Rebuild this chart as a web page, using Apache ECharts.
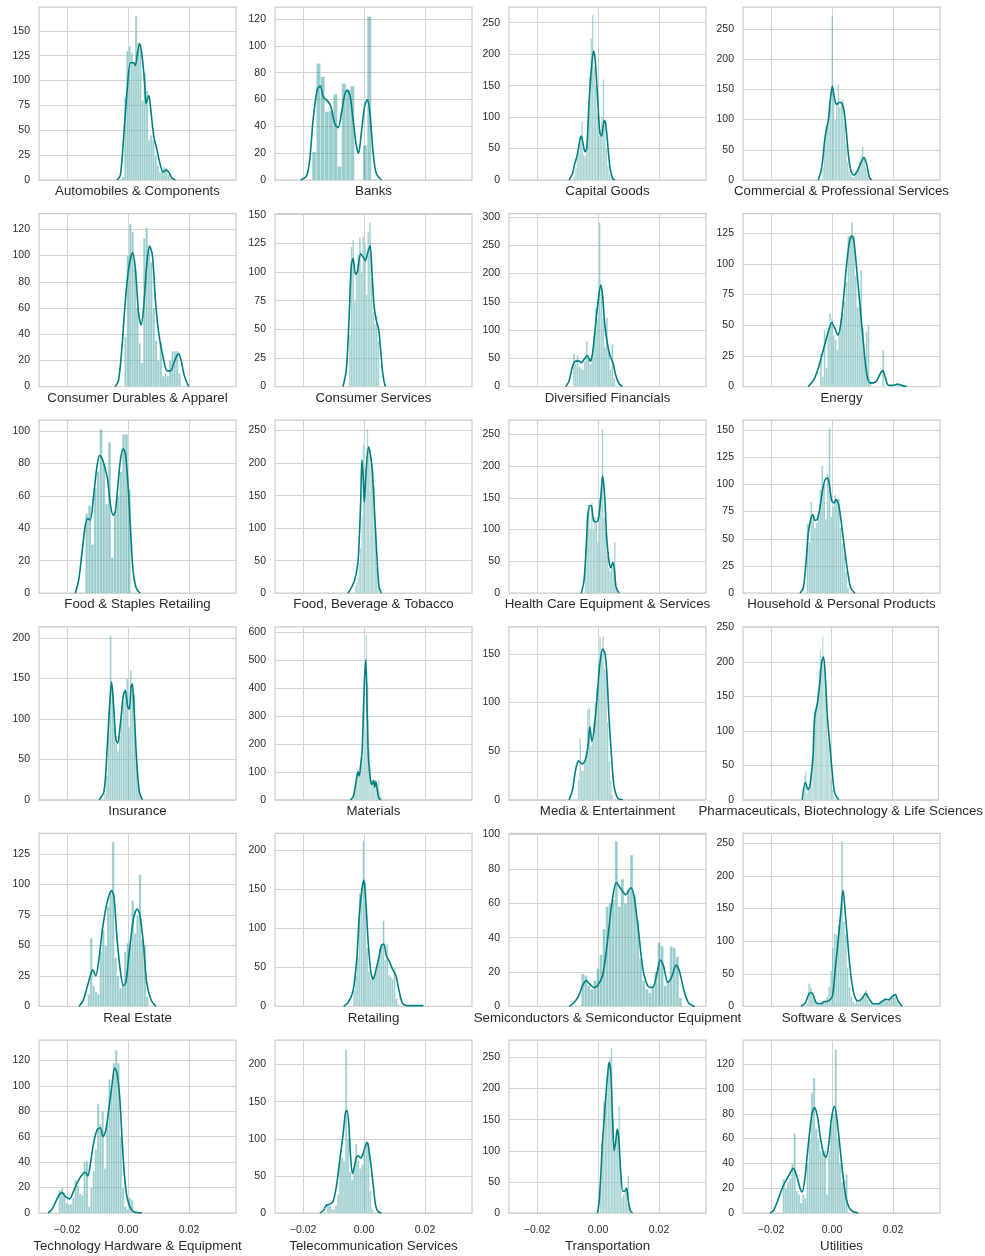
<!DOCTYPE html>
<html>
<head>
<meta charset="utf-8">
<script src="https://cdn.jsdelivr.net/npm/echarts@6/dist/echarts.min.js"></script>
<style>
  html, body { margin: 0; padding: 0; background: #fff; }
  #chart { width: 985px; height: 1256px; }
</style>
</head>
<body>
<div id="chart"></div>
<script>
// sector names, one panel each (6 rows x 4 columns)
const sectors = [
  'Automobiles & Components', 'Banks', 'Capital Goods', 'Commercial & Professional Services',
  'Consumer Durables & Apparel', 'Consumer Services', 'Diversified Financials', 'Energy',
  'Food & Staples Retailing', 'Food, Beverage & Tobacco', 'Health Care Equipment & Services', 'Household & Personal Products',
  'Insurance', 'Materials', 'Media & Entertainment', 'Pharmaceuticals, Biotechnology & Life Sciences',
  'Real Estate', 'Retailing', 'Semiconductors & Semiconductor Equipment', 'Software & Services',
  'Technology Hardware & Equipment', 'Telecommunication Services', 'Transportation', 'Utilities'
]

// histogram bins: left edge of first bin, bin width, counts
const binStart = [-0.00197, -0.01705, -0.0080, -0.0032, -0.0012, -0.00492, -0.0082, -0.00394,
  -0.0140, -0.00306, -0.00426, -0.00831, -0.0078, -0.0034, -0.0066, -0.0090,
  -0.0133, -0.0035, -0.0055, -0.0084, -0.02273, -0.01213, 0.00066, -0.01618]
const binWidth = [0.00071, 0.00139, 0.0005, 0.0005, 0.00077, 0.00055, 0.0006, 0.0006,
  0.00093, 0.00044, 0.0005, 0.0006, 0.0006, 0.0004, 0.0005, 0.0004,
  0.0008, 0.0006, 0.001, 0.0006, 0.00074, 0.00066, 0.0005, 0.00071]
const counts = [
  [3, 84, 130, 135, 128, 118, 165, 138, 137, 80, 108, 90, 40, 45, 40, 25, 15, 8, 10, 13, 12, 5, 2],
  [21, 87, 77, 51, 52, 64, 10, 72, 67, 70, 0, 0, 26, 122],
  [5, 18, 35, 45, 60, 93, 40, 38, 55, 95, 165, 225, 262, 180, 150, 105, 70, 80, 100, 160, 95, 50, 22, 8, 2],
  [20, 60, 90, 95, 130, 120, 271, 135, 100, 125, 158, 120, 130, 133, 95, 60, 30, 15, 10, 5, 5, 10, 15, 20, 30, 40, 55, 35, 20, 8, 3],
  [38, 100, 124, 118, 90, 60, 33, 18, 113, 121, 108, 95, 60, 35, 20, 34, 8, 10, 8, 20, 27, 27, 27, 10],
  [45, 122, 128, 75, 100, 115, 130, 100, 131, 125, 80, 135, 143, 95, 65, 55, 62, 40],
  [58, 40, 55, 35, 32, 30, 45, 80, 48, 40, 50, 88, 138, 120, 290, 165, 120, 70, 122, 60, 30, 75, 15],
  [27, 8, 46, 15, 45, 60, 55, 42, 38, 30, 45, 55, 60, 70, 85, 123, 123, 134, 123, 90, 65, 64, 95, 48, 20, 45, 50, 5, 0, 0, 0, 0, 0, 0, 30, 0, 0, 0, 0, 0, 0, 0, 2],
  [49, 54, 30, 65, 75, 101, 80, 55, 93, 22, 50, 60, 75, 98, 98, 64],
  [10, 15, 25, 45, 70, 120, 228, 150, 190, 252, 225, 220, 200, 190, 165, 100, 40, 15],
  [70, 124, 140, 100, 142, 100, 120, 110, 80, 150, 165, 258, 120, 95, 60, 40, 35, 45, 40, 80, 8],
  [64, 47, 84, 70, 60, 65, 75, 95, 117, 100, 68, 110, 152, 70, 80, 90, 85, 87, 60, 45, 35, 20, 5],
  [8, 30, 110, 203, 140, 100, 70, 60, 80, 100, 120, 135, 150, 90, 160, 145, 130, 60, 20, 5],
  [20, 45, 80, 110, 95, 120, 140, 150, 200, 250, 588, 420, 180, 120, 70, 55, 50, 70, 60, 40, 70, 30, 10],
  [20, 63, 30, 30, 40, 50, 93, 95, 55, 60, 80, 100, 115, 140, 168, 150, 168, 135, 132, 80, 40, 20, 5],
  [35, 42, 10, 15, 20, 40, 60, 100, 130, 135, 140, 160, 190, 218, 200, 238, 195, 160, 120, 90, 80, 60, 30, 15, 5, 2],
  [10, 56, 17, 12, 10, 45, 63, 50, 82, 95, 135, 40, 25, 15, 18, 45, 52, 50, 87, 60, 75, 108, 55, 50, 8],
  [20, 40, 65, 145, 150, 213, 160, 75, 45, 35, 35, 40, 45, 60, 75, 80, 110, 60, 80, 40, 38, 35, 50, 10, 3],
  [19, 18, 12, 10, 15, 22, 30, 45, 58, 60, 62, 96, 58, 74, 60, 68, 88, 65, 50, 28, 15, 10, 8, 12, 20, 37, 35, 12, 15, 35, 34, 29, 5],
  [5, 35, 28, 15, 10, 3, 2, 3, 5, 8, 10, 15, 30, 55, 90, 112, 110, 125, 140, 253, 130, 110, 60, 30, 15, 8, 5, 10, 5, 10, 12, 15, 25, 10, 5, 3, 2, 2, 3, 5, 8, 10, 12, 10, 8, 12, 15, 18, 15, 8, 3],
  [18, 20, 15, 8, 7, 7, 12, 26, 22, 15, 14, 40, 41, 5, 20, 33, 50, 86, 70, 80, 35, 70, 105, 98, 118, 128, 118, 60, 20, 5, 3, 12, 10],
  [12, 10, 5, 5, 10, 25, 70, 75, 70, 220, 100, 55, 45, 60, 93, 70, 60, 65, 80, 97, 93, 30, 5],
  [40, 110, 180, 175, 200, 230, 250, 265, 150, 110, 120, 130, 172, 60, 25, 30, 35, 40, 60, 10],
  [27, 20, 25, 28, 40, 64, 18, 15, 8, 15, 12, 40, 60, 97, 109, 68, 60, 50, 48, 50, 15, 50, 70, 80, 132, 60, 40, 25, 26, 31]
]

// kde curves as [return, density]
const kde = [
  [[-0.0036, 0], [-0.0025, 5], [-0.0014, 45], [-0.0003, 90], [0.0008, 118], [0.0019, 118], [0.0024, 115], [0.0032, 130], [0.0038, 137], [0.0046, 125], [0.0055, 95], [0.0059, 77], [0.0068, 85], [0.0073, 75], [0.0084, 45], [0.0095, 30], [0.0106, 15], [0.0115, 8], [0.0125, 10], [0.0133, 8], [0.0144, 2], [0.0155, 0]],
  [[-0.0208, 0], [-0.0189, 3], [-0.0178, 15], [-0.0167, 45], [-0.0153, 68], [-0.0143, 70], [-0.0134, 62], [-0.012, 59], [-0.0109, 55], [-0.0096, 42], [-0.0085, 39], [-0.0074, 50], [-0.0063, 64], [-0.0055, 67], [-0.0046, 63], [-0.0036, 45], [-0.0025, 25], [-0.0018, 20], [-0.0009, 35], [0.0002, 55], [0.0011, 60], [0.0019, 50], [0.003, 20], [0.004, 5], [0.0057, 0]],
  [[-0.0095, 0], [-0.0084, 10], [-0.0077, 25], [-0.0068, 40], [-0.0059, 65], [-0.0055, 70], [-0.0048, 55], [-0.0043, 45], [-0.0037, 50], [-0.003, 120], [-0.0022, 175], [-0.0015, 205], [-0.001, 195], [-0.0002, 135], [0.0006, 75], [0.0012, 70], [0.002, 95], [0.0025, 90], [0.0033, 50], [0.0039, 20], [0.0047, 3], [0.0055, 0]],
  [[-0.0045, 0], [-0.0034, 20], [-0.0023, 70], [-0.0012, 100], [-0.0004, 140], [0.0001, 155], [0.0008, 135], [0.0015, 125], [0.0024, 128], [0.0032, 127], [0.0039, 115], [0.0046, 85], [0.0054, 40], [0.0062, 15], [0.0072, 8], [0.0083, 15], [0.0094, 28], [0.0105, 37], [0.0114, 25], [0.0122, 5], [0.013, 0]],
  [[-0.0042, 0], [-0.0031, 5], [-0.002, 30], [-0.0009, 65], [0.0002, 90], [0.0015, 102], [0.0024, 90], [0.0035, 55], [0.0043, 47], [0.0051, 60], [0.0062, 95], [0.0071, 107], [0.008, 100], [0.009, 65], [0.0101, 40], [0.0117, 20], [0.0128, 12], [0.0139, 12], [0.015, 18], [0.0161, 24], [0.0166, 25], [0.0174, 20], [0.0185, 8], [0.0199, 0]],
  [[-0.0069, 0], [-0.0058, 15], [-0.0049, 60], [-0.0042, 105], [-0.0036, 112], [-0.0028, 98], [-0.0022, 100], [-0.0011, 116], [-0.0003, 113], [0.0004, 110], [0.0013, 118], [0.002, 123], [0.0026, 100], [0.0033, 70], [0.004, 58], [0.0048, 50], [0.0055, 30], [0.0062, 10], [0.007, 0]],
  [[-0.0106, 0], [-0.0095, 10], [-0.0084, 35], [-0.0073, 45], [-0.0062, 45], [-0.0055, 42], [-0.0046, 48], [-0.0035, 55], [-0.0026, 45], [-0.0019, 55], [-0.0008, 110], [0, 150], [0.0009, 180], [0.0015, 160], [0.0022, 110], [0.0031, 75], [0.0039, 55], [0.005, 40], [0.0058, 20], [0.0069, 5], [0.008, 0]],
  [[-0.0078, 0], [-0.0061, 5], [-0.0045, 15], [-0.0034, 25], [-0.0023, 35], [-0.0012, 45], [-0.0001, 52], [0.001, 47], [0.0019, 42], [0.0028, 50], [0.0037, 70], [0.0048, 100], [0.0057, 118], [0.0065, 123], [0.0072, 118], [0.0081, 95], [0.0092, 65], [0.0103, 35], [0.0114, 10], [0.0125, 3], [0.0136, 3], [0.0147, 5], [0.0157, 10], [0.0166, 13], [0.0174, 8], [0.0185, 1], [0.0201, 1], [0.0214, 2], [0.0228, 1], [0.0245, 0]],
  [[-0.0173, 0], [-0.0162, 8], [-0.0151, 25], [-0.014, 42], [-0.0132, 46], [-0.0124, 45], [-0.0113, 60], [-0.0102, 78], [-0.0093, 85], [-0.0085, 83], [-0.0074, 76], [-0.0067, 70], [-0.0058, 55], [-0.0049, 48], [-0.0042, 50], [-0.0034, 65], [-0.0025, 82], [-0.0016, 89], [-0.0009, 86], [-0.0001, 70], [0.0008, 40], [0.0016, 15], [0.0027, 3], [0.004, 0]],
  [[-0.0053, 0], [-0.0042, 8], [-0.0031, 20], [-0.0022, 40], [-0.0018, 60], [-0.0011, 140], [-0.0007, 205], [-0.0003, 180], [0.0001, 140], [0.0007, 190], [0.0015, 225], [0.0022, 210], [0.0027, 190], [0.0035, 120], [0.0043, 50], [0.0049, 10], [0.0057, 0]],
  [[-0.0055, 0], [-0.0046, 20], [-0.0038, 80], [-0.0033, 125], [-0.0026, 138], [-0.0021, 137], [-0.0015, 115], [-0.0008, 112], [0, 115], [0.0009, 150], [0.0015, 185], [0.0022, 150], [0.0028, 90], [0.0036, 50], [0.0042, 40], [0.0048, 48], [0.0053, 40], [0.0059, 10], [0.0069, 0]],
  [[-0.0105, 0], [-0.0094, 5], [-0.0085, 30], [-0.0078, 55], [-0.007, 68], [-0.0063, 72], [-0.0056, 67], [-0.0048, 68], [-0.0039, 80], [-0.0031, 95], [-0.0023, 104], [-0.0015, 106], [-0.0009, 100], [-0.0001, 85], [0.0007, 83], [0.0013, 86], [0.0021, 82], [0.0028, 70], [0.0037, 50], [0.0046, 30], [0.0054, 15], [0.0061, 5], [0.0075, 0]],
  [[-0.0095, 0], [-0.0079, 10], [-0.0069, 60], [-0.006, 120], [-0.0054, 146], [-0.0048, 120], [-0.004, 75], [-0.0034, 70], [-0.0025, 95], [-0.0015, 130], [-0.0009, 135], [-0.0001, 115], [0.0004, 112], [0.001, 140], [0.0014, 143], [0.002, 110], [0.0028, 50], [0.0037, 10], [0.0047, 0]],
  [[-0.0045, 0], [-0.0036, 10], [-0.003, 40], [-0.0024, 80], [-0.002, 100], [-0.0016, 85], [-0.0011, 125], [-0.0006, 180], [-0.0002, 320], [0.0002, 440], [0.0006, 500], [0.001, 330], [0.0014, 160], [0.0018, 100], [0.0023, 60], [0.0027, 55], [0.0031, 70], [0.0035, 45], [0.0039, 65], [0.0044, 30], [0.0049, 5], [0.0055, 0]],
  [[-0.0095, 0], [-0.0084, 10], [-0.0074, 30], [-0.0064, 40], [-0.0053, 37], [-0.0043, 40], [-0.0033, 55], [-0.0027, 75], [-0.002, 60], [-0.0012, 75], [-0.0002, 110], [0.0006, 140], [0.0015, 155], [0.0023, 150], [0.0029, 130], [0.0035, 90], [0.0044, 45], [0.0052, 15], [0.0064, 2], [0.0081, 0]],
  [[-0.0096, 0], [-0.0086, 25], [-0.0077, 15], [-0.0071, 20], [-0.0061, 60], [-0.0055, 120], [-0.0046, 140], [-0.0038, 170], [-0.0032, 200], [-0.0026, 207], [-0.002, 180], [-0.0013, 120], [-0.0005, 80], [0.0003, 40], [0.0011, 10], [0.0024, 0]],
  [[-0.0161, 0], [-0.0147, 5], [-0.0135, 15], [-0.0124, 25], [-0.0116, 30], [-0.0106, 25], [-0.0095, 40], [-0.0083, 65], [-0.0069, 85], [-0.0054, 95], [-0.0046, 90], [-0.0036, 55], [-0.0023, 25], [-0.0015, 17], [-0.0007, 20], [0.0004, 45], [0.0018, 72], [0.003, 80], [0.0039, 75], [0.0051, 50], [0.0061, 20], [0.0076, 5], [0.0092, 0]],
  [[-0.0067, 0], [-0.0052, 5], [-0.0036, 20], [-0.0024, 60], [-0.0015, 120], [-0.0007, 150], [-0.0001, 162], [0.0005, 140], [0.0014, 80], [0.0022, 45], [0.003, 35], [0.0038, 45], [0.0047, 60], [0.0057, 78], [0.0065, 80], [0.0073, 65], [0.0084, 57], [0.0094, 47], [0.0104, 40], [0.0115, 20], [0.0125, 5], [0.0139, 1], [0.017, 1], [0.0195, 1]],
  [[-0.0095, 0], [-0.008, 2], [-0.0064, 6], [-0.0051, 12], [-0.0039, 15], [-0.0027, 13], [-0.0014, 11], [-0.0002, 12], [0.0015, 18], [0.0029, 35], [0.0044, 58], [0.006, 72], [0.0076, 68], [0.0091, 65], [0.0107, 69], [0.0118, 64], [0.0132, 45], [0.0147, 22], [0.0163, 12], [0.0179, 11], [0.0194, 20], [0.0204, 27], [0.0214, 24], [0.0229, 14], [0.0241, 17], [0.0256, 24], [0.0266, 21], [0.0282, 9], [0.0297, 2], [0.0317, 0]],
  [[-0.0102, 0], [-0.0088, 5], [-0.0075, 20], [-0.0067, 21], [-0.0059, 14], [-0.0051, 5], [-0.0038, 4], [-0.0026, 7], [-0.0013, 8], [0.0001, 15], [0.0011, 60], [0.002, 100], [0.0028, 140], [0.0036, 178], [0.0044, 140], [0.0053, 90], [0.0061, 50], [0.0069, 25], [0.0077, 12], [0.0086, 8], [0.0098, 12], [0.011, 20], [0.0121, 12], [0.0135, 4], [0.0151, 4], [0.0166, 8], [0.0176, 11], [0.0186, 10], [0.0197, 15], [0.0207, 18], [0.0217, 8], [0.023, 0]],
  [[-0.0262, 0], [-0.0249, 3], [-0.0235, 10], [-0.0224, 15], [-0.0216, 16], [-0.0206, 13], [-0.0192, 11], [-0.0179, 17], [-0.0166, 24], [-0.0151, 30], [-0.014, 32], [-0.0132, 29], [-0.0124, 38], [-0.0113, 55], [-0.0102, 65], [-0.0091, 67], [-0.0082, 60], [-0.0073, 65], [-0.0063, 82], [-0.0053, 100], [-0.0044, 114], [-0.0036, 110], [-0.0027, 90], [-0.002, 60], [-0.0012, 30], [-0.0003, 12], [0.0008, 4], [0.0019, 1], [0.0046, 0]],
  [[-0.0145, 0], [-0.0134, 3], [-0.0124, 10], [-0.0113, 12], [-0.0102, 15], [-0.0091, 35], [-0.008, 70], [-0.0069, 105], [-0.0061, 135], [-0.0056, 138], [-0.005, 120], [-0.0044, 75], [-0.0038, 53], [-0.0033, 60], [-0.0025, 75], [-0.0018, 77], [-0.0011, 74], [-0.0003, 80], [0.0004, 90], [0.0011, 95], [0.0016, 85], [0.0024, 60], [0.0032, 30], [0.0038, 10], [0.0046, 2], [0.0057, 0]],
  [[-0.0002, 0], [0.0003, 15], [0.0009, 60], [0.0014, 110], [0.002, 150], [0.0025, 185], [0.0031, 220], [0.0036, 242], [0.0042, 225], [0.0047, 160], [0.0053, 100], [0.0058, 115], [0.0063, 135], [0.0068, 120], [0.0074, 70], [0.0081, 35], [0.0087, 35], [0.0093, 40], [0.0098, 25], [0.0105, 5], [0.0113, 0]],
  [[-0.0203, 0], [-0.0192, 2], [-0.0181, 8], [-0.0171, 15], [-0.016, 22], [-0.0149, 27], [-0.0138, 32], [-0.0127, 36], [-0.0116, 30], [-0.0105, 20], [-0.0098, 17], [-0.0089, 28], [-0.0078, 55], [-0.0067, 78], [-0.0058, 85], [-0.0048, 78], [-0.0039, 62], [-0.0028, 48], [-0.002, 45], [-0.0011, 55], [-0.0002, 76], [0.0008, 86], [0.0015, 78], [0.0024, 58], [0.0035, 32], [0.0046, 12], [0.0057, 4], [0.007, 1], [0.0086, 0]]
]

// axis ranges and ticks
const xMin = -0.0292
const xMax = 0.0354
const xTicks = [-0.02, 0, 0.02]
const yMax = [174, 129, 275, 286, 132, 151, 306, 141, 106.6, 266, 272, 159,
  214, 618, 178, 251, 142, 222, 100.6, 265, 136, 233, 278, 139.5]
const yStep = [25, 20, 50, 50, 20, 25, 50, 25, 20, 50, 50, 25,
  50, 100, 50, 50, 25, 50, 20, 50, 20, 50, 50, 20]

const colLeft = [39, 275, 509, 743]
const rowTop = [7, 213.6, 420.2, 626.8, 833.4, 1040]
const panelW = 197
const panelH = 173
const font = 'Liberation Sans, Arial, sans-serif'
const textColor = '#2b2b2b'
const gridColor = '#d3d3d3'

const chart = echarts.init(document.getElementById('chart'))
const option = { animation: false, backgroundColor: '#fff', grid: [], xAxis: [], yAxis: [], series: [] }

sectors.forEach((name, i) => {
  const r = Math.floor(i / 4)
  const c = i % 4
  const lastRow = r === 5
  const yTicks = []
  for (let v = 0; v < yMax[i]; v += yStep[i]) yTicks.push(v)

  option.grid.push({
    left: colLeft[c], top: rowTop[r], width: panelW, height: panelH,
    show: true, backgroundColor: '#fff', borderColor: '#cccccc', borderWidth: 1.25
  })
  option.xAxis.push({
    type: 'value', gridIndex: i, min: xMin, max: xMax,
    name: name, nameLocation: 'middle', nameGap: lastRow ? 27 : 5,
    nameTextStyle: { fontFamily: font, fontSize: 13.3, color: textColor, verticalAlign: 'top' },
    axisLine: { show: false },
    axisTick: { show: false, customValues: xTicks },
    axisLabel: {
      show: lastRow, customValues: xTicks, margin: 12,
      fontFamily: font, fontSize: 10.5, color: textColor,
      formatter: v => v.toFixed(2).replace('-', '\u2212')
    },
    splitLine: { show: true, lineStyle: { color: gridColor, width: 1 } }
  })
  option.yAxis.push({
    type: 'value', gridIndex: i, min: 0, max: yMax[i],
    axisLine: { show: false },
    axisTick: { show: false, customValues: yTicks },
    axisLabel: { customValues: yTicks, margin: 9, fontFamily: font, fontSize: 10.5, color: textColor },
    splitLine: { show: true, lineStyle: { color: gridColor, width: 1 } }
  })

  // histogram bars
  option.series.push({
    type: 'custom', xAxisIndex: i, yAxisIndex: i, silent: true,
    encode: { x: [0, 1], y: 2 },
    data: counts[i].map((h, k) => [binStart[i] + k * binWidth[i], binStart[i] + (k + 1) * binWidth[i], h]),
    renderItem: (params, api) => {
      const a = api.coord([api.value(0), 0])
      const b = api.coord([api.value(1), api.value(2)])
      return {
        type: 'rect',
        shape: { x: a[0], y: b[1], width: b[0] - a[0], height: a[1] - b[1] },
        style: { fill: 'rgba(0,128,128,0.4)', stroke: 'rgba(255,255,255,0.55)', lineWidth: 0.6 }
      }
    }
  })
  // kde line
  option.series.push({
    type: 'line', xAxisIndex: i, yAxisIndex: i, silent: true,
    data: kde[i], smooth: 0.3, showSymbol: false,
    lineStyle: { color: '#008080', width: 1.6 }
  })
})

chart.setOption(option)
window.onresize = () => {
  chart.resize()
}
</script>
</body>
</html>
